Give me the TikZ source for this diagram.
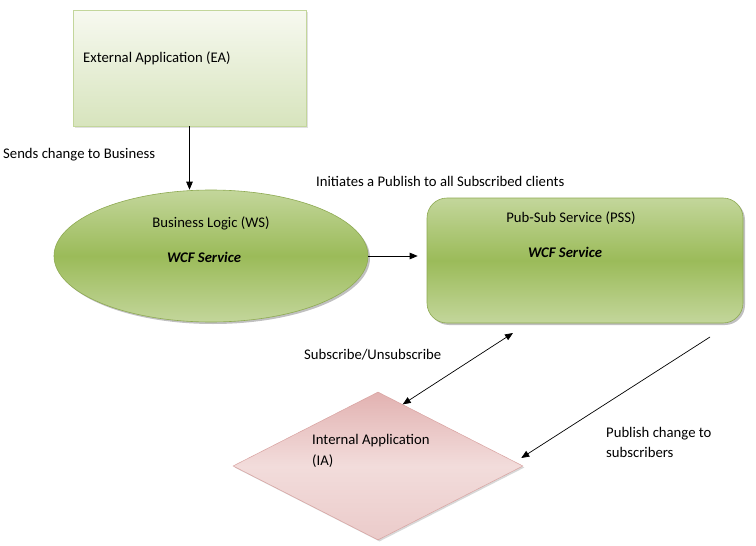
\documentclass[tikz,border=0pt]{standalone}
\usepackage{fontspec}
\setmainfont{Carlito}
\usetikzlibrary{shapes.geometric,arrows.meta,shadows,calc}
\definecolor{glight}{HTML}{C3D69B}
\definecolor{gdark}{HTML}{9BBB59}
\definecolor{gborder}{HTML}{8EAA52}
\definecolor{eatop}{HTML}{F7F9F0}
\definecolor{eabot}{HTML}{D7E4BD}
\definecolor{eaborder}{HTML}{C3D69B}
\definecolor{ptop}{HTML}{E2B2B1}
\definecolor{pmid}{HTML}{F2DCDB}
\definecolor{pbot}{HTML}{EBCBCA}
\definecolor{pborder}{HTML}{D9A3A1}
\tikzset{
  x=1pt,y=-1pt,
  every node/.style={font=\fontsize{14.7}{17}\selectfont, text=black},
  lbl/.style={anchor=west, inner sep=0},
  greenfill/.style={top color=glight, bottom color=glight, middle color=gdark, draw=gborder, line width=0.6pt,
     drop shadow={shadow xshift=2pt, shadow yshift=-2pt, opacity=0.35, fill=black!70}},
  arr/.style={-{Triangle[length=8pt,width=6.5pt]}, line width=0.7pt},
  arrtwo/.style={{Triangle[length=8pt,width=6.5pt]}-{Triangle[length=8pt,width=6.5pt]}, line width=0.7pt},
}
\begin{document}
\begin{tikzpicture}
\useasboundingbox (0,0) rectangle (756,546);
\fill[white] (0,0) rectangle (756,546);
% External application
\node[draw=eaborder, top color=eatop, bottom color=eabot, minimum width=233pt, minimum height=116pt, inner sep=0,
  drop shadow={shadow xshift=1.5pt, shadow yshift=-1.5pt, opacity=0.2, fill=black!60}] (ea) at (189.5,68) {};
\node[lbl] (eat) at (83,58) {External Application (EA)};
% Business logic ellipse
\node[ellipse, greenfill, minimum width=314pt, minimum height=132pt, inner sep=0] (bl) at (211,256) {};
\node (blt) at (211,223) {Business Logic (WS)};
\node (blw) at (204,257) {\textbf{\textit{WCF Service}}};
% Pub-Sub service
\node[rectangle, rounded corners=20pt, greenfill, minimum width=316pt, minimum height=125pt, inner sep=0] (pss) at (585,260.5) {};
\node (psst) at (571,218) {Pub-Sub Service (PSS)};
\node (pssw) at (565,252) {\textbf{\textit{WCF Service}}};
% Internal application diamond
\node[diamond, draw=pborder, top color=ptop, bottom color=pbot, middle color=pmid, line width=0.5pt,
  minimum width=290pt, minimum height=148pt, inner sep=0,
  drop shadow={shadow xshift=1.5pt, shadow yshift=-1.5pt, opacity=0.25, fill=black!60}] (ia) at (378,466) {};
\node[lbl, align=left, font=\fontsize{14.7}{21}\selectfont] (iat) at (312,451) {Internal Application\\(IA)};
% labels
\node[lbl] (l1) at (3,155) {Sends change to Business};
\node[lbl] (l2) at (316,181) {Initiates a Publish to all Subscribed clients};
\node[lbl] (l3) at (304,355) {Subscribe/Unsubscribe};
\node[lbl, align=left, font=\fontsize{14.7}{20}\selectfont] (l4) at (606,442) {Publish change to\\subscribers};
% connectors
\coordinate (c1) at (513,333);
\coordinate (c2) at (710,337);
\draw[arr] (ea.south) -- (ea.south |- bl.north);
\draw[arr] (bl.east) -- ([xshift=-9pt]pss.west |- bl.east);
\draw[arrtwo] (c1) -- ($(ia.north)!0.17!(ia.east)$);
\draw[arr] (c2) -- ([yshift=8pt, xshift=-2pt]ia.east);
\end{tikzpicture}
\end{document}
